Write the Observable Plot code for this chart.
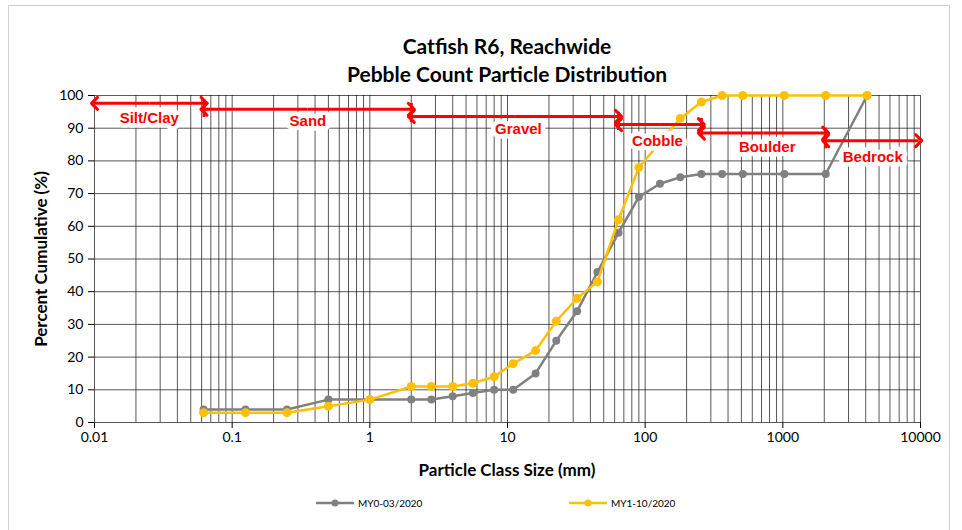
<!DOCTYPE html>
<html>
<head>
<meta charset="utf-8">
<script src="https://cdn.jsdelivr.net/npm/d3@7"></script>
<script src="https://cdn.jsdelivr.net/npm/@observablehq/plot@0.6"></script>
<style>
  html, body { margin: 0; padding: 0; background: #fff; }
  #wrap { position: relative; width: 962px; height: 530px; overflow: hidden; font-family: Lato, "Liberation Sans", sans-serif; }
  #border { position: absolute; left: 8px; top: 5px; width: 942px; height: 560px; border: 1px solid #d0d0d0; box-sizing: border-box; }
  .title { position: absolute; left: 0; width: 1014px; text-align: center; font-weight: bold; font-size: 21px; color: #000; line-height: 1; }
  #xlabel { position: absolute; left: 0; width: 1014px; top: 461px; text-align: center; font-weight: bold; font-size: 17px; line-height: 1; }
  #ylabel { position: absolute; left: 40px; top: 259px; transform: translate(-50%, -50%) rotate(-90deg); font-weight: bold; font-size: 17px; white-space: nowrap; line-height: 1; }
  .leg { position: absolute; top: 497px; font-size: 10px; display: flex; align-items: center; }
  .leg svg { margin-right: 4px; }
  #chart { position: absolute; left: 0; top: 0; }
</style>
</head>
<body>
<div id="wrap">
  <div id="chart"></div>
  <div id="border"></div>
  <div class="title" style="top:35px">Catfish R6, Reachwide</div>
  <div class="title" style="top:63px">Pebble Count Particle Distribution</div>
  <div id="xlabel">Particle Class Size (mm)</div>
  <div id="ylabel">Percent Cumulative (%)</div>
  <div class="leg" style="left:316px"><svg width="38" height="12"><line x1="0" y1="6" x2="38" y2="6" stroke="#808080" stroke-width="2.5"/><circle cx="19" cy="6" r="3.5" fill="#808080"/></svg>MY0-03/2020</div>
  <div class="leg" style="left:569px"><svg width="38" height="12"><line x1="0" y1="6" x2="38" y2="6" stroke="#FFC000" stroke-width="2.5"/><circle cx="19" cy="6" r="3.5" fill="#FFC000"/></svg>MY1-10/2020</div>
</div>
<script>
// Particle class sizes (mm)
const sizes = [0.062, 0.125, 0.25, 0.5, 1, 2, 2.8, 4, 5.6, 8, 11, 16, 22.6, 32, 45, 64, 90, 128, 180, 256, 362, 512, 1024, 2048, 4096];
// Percent cumulative
const my0 = [4, 4, 4, 7, 7, 7, 7, 8, 9, 10, 10, 15, 25, 34, 46, 58, 69, 73, 75, 76, 76, 76, 76, 76, 100];
const my1 = [3, 3, 3, 5, 7, 11, 11, 11, 12, 14, 18, 22, 31, 38, 43, 62, 78, null, 93, 98, 100, 100, 100, 100, 100];
const seriesNames = ["MY0-03/2020", "MY1-10/2020"];

// Axis ticks
const xTicks = [0.01, 0.1, 1, 10, 100, 1000, 10000];
const yTicks = [0, 10, 20, 30, 40, 50, 60, 70, 80, 90, 100];

// Size-class annotations
const zones = ["Silt/Clay", "Sand", "Gravel", "Cobble", "Boulder", "Bedrock"];
const zoneStart = [0.01, 0.0625, 2, 64, 256, 2048];
const zoneEnd = [0.0625, 2, 64, 256, 2048, 9700];
const zoneArrowY = [97.6, 95.8, 93.6, 91.1, 88.5, 86.2];
const zoneLabelX = [0.025, 0.355, 12, 123, 770, 4500];
const zoneLabelY = [93.0, 92.1, 89.6, 86.0, 84.2, 81.1];
const tickBottom = [null, 93.3, 91.7, 89.3, 87.2, 83.7];
const tickTop = [null, 98.5, 97.6, 94.9, 93.0, 90.0];

// Grid values (every 1..9 x 10^k)
const minor = [];
for (let e = -2; e < 4; e++) for (let m = 1; m < 10; m++) minor.push(+(m * Math.pow(10, e)).toPrecision(3));
minor.push(10000);

const rows0 = sizes.map((s, i) => ({x: s, y: my0[i], series: seriesNames[0]}));
const rows1 = sizes.map((s, i) => ({x: s, y: my1[i], series: seriesNames[1]})).filter(d => d.y != null);
const zoneRows = zones.map((z, i) => ({name: z, x1: zoneStart[i], x2: zoneEnd[i], xm: Math.sqrt(zoneStart[i] * zoneEnd[i]), y: zoneArrowY[i], lx: zoneLabelX[i], ly: zoneLabelY[i], tb: tickBottom[i], tt: tickTop[i]}));
const tickRows = zoneRows.filter(d => d.tb != null);

const gray = "#808080", gold = "#FFC000", red = "#FF0000";
const labelFont = "'Liberation Sans', Arial, sans-serif";

const chart = Plot.plot({
  width: 962,
  height: 530,
  marginLeft: 94,
  marginRight: 42,
  marginTop: 95,
  marginBottom: 108,
  style: {fontFamily: "Lato, 'Liberation Sans', sans-serif", fontSize: "14px", color: "#000", background: "transparent"},
  x: {type: "log", domain: [0.01, 10000], ticks: xTicks, tickFormat: d => String(d), tickSize: 6, tickPadding: 4, label: null},
  y: {domain: [0, 100], ticks: yTicks, tickSize: 6, tickPadding: 5, label: null},
  marks: [
    Plot.ruleX(minor, {stroke: "#111", strokeOpacity: 0.7, strokeWidth: 1}),
    Plot.ruleY(yTicks, {stroke: "#111", strokeOpacity: 0.7, strokeWidth: 1}),
    Plot.line(rows0, {x: "x", y: "y", stroke: gray, strokeWidth: 2.5}),
    Plot.dot(rows0, {x: "x", y: "y", fill: gray, r: 4}),
    Plot.line(rows1, {x: "x", y: "y", stroke: gold, strokeWidth: 2.5}),
    Plot.dot(rows1, {x: "x", y: "y", fill: gold, r: 4.5}),
    Plot.text(zoneRows, {x: "lx", y: "ly", text: "name", fill: "white", stroke: "white", strokeWidth: 9, fontWeight: "bold", fontSize: 15, fontFamily: labelFont}),
    Plot.text(zoneRows, {x: "lx", y: "ly", text: "name", fill: red, fontWeight: "bold", fontSize: 15, fontFamily: labelFont}),
    Plot.link(zoneRows, {x1: "xm", x2: "x1", y1: "y", y2: "y", stroke: red, strokeWidth: 3, markerEnd: "arrow"}),
    Plot.link(zoneRows, {x1: "xm", x2: "x2", y1: "y", y2: "y", stroke: red, strokeWidth: 3, markerEnd: "arrow"}),
    Plot.ruleX(tickRows, {x: "x1", y1: "tb", y2: "tt", stroke: red, strokeWidth: 3})
  ]
});
document.getElementById("chart").appendChild(chart);
</script>
</body>
</html>
